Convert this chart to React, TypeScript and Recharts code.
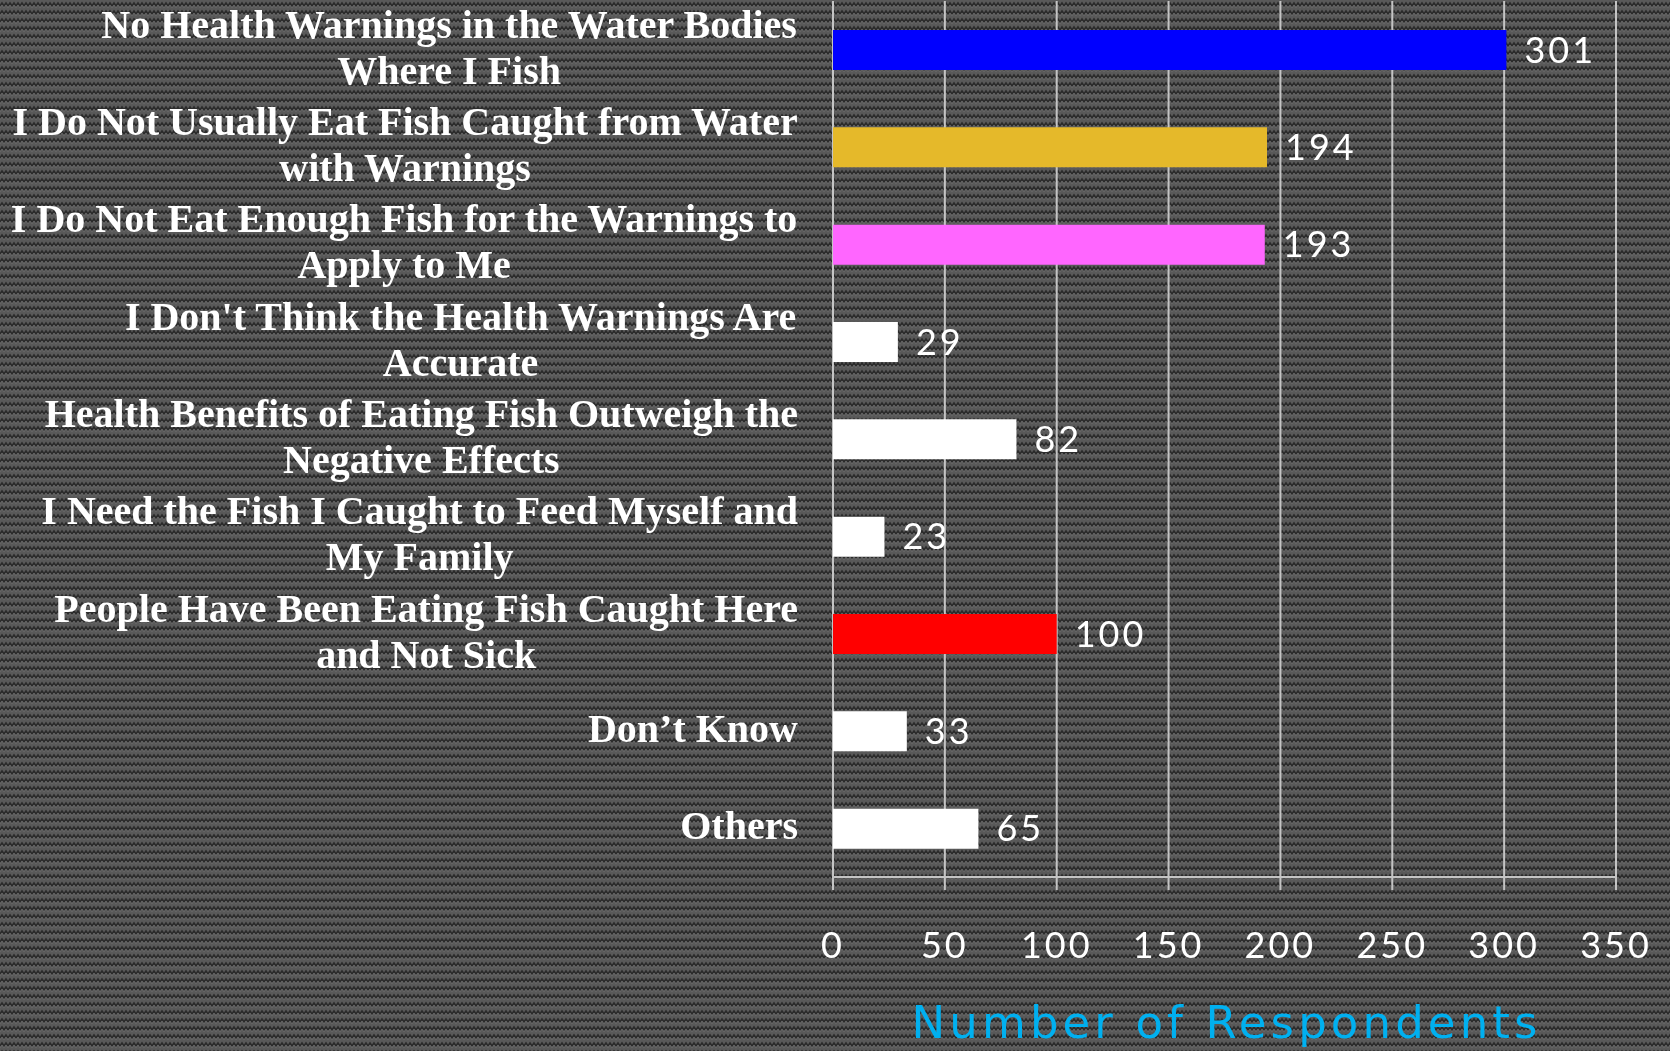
import React from 'react';
import { BarChart, Bar, XAxis, YAxis, CartesianGrid, Cell, LabelList } from 'recharts';

const categories = [
  'No Health Warnings in the Water Bodies\nWhere I Fish',
  'I Do Not Usually Eat Fish Caught from Water\nwith Warnings',
  'I Do Not Eat Enough Fish for the Warnings to\nApply to Me',
  "I Don't Think the Health Warnings Are\nAccurate",
  'Health Benefits of Eating Fish Outweigh the\nNegative Effects',
  'I Need the Fish I Caught to Feed Myself and\nMy Family',
  'People Have Been Eating Fish Caught Here\nand Not Sick',
  'Don’t Know',
  'Others',
];
const respondents = [301, 194, 193, 29, 82, 23, 100, 33, 65];
const barColors = ['#0000ff', '#e5b92a', '#ff66ff', '#ffffff', '#ffffff', '#ffffff', '#ff0000', '#ffffff', '#ffffff'];
const xTicks = [0, 50, 100, 150, 200, 250, 300, 350];

const data = categories.map((name, i) => ({ name, value: respondents[i] }));

const GRID = '#c4c4c4';
const LABEL_FONT = 'bold 40px "Liberation Serif"';
const NUM_FONT = 'Lato, "Open Sans", sans-serif';

const pattern =
  "<svg xmlns='http://www.w3.org/2000/svg' width='8' height='8'>" +
  "<rect width='8' height='8' fill='#595959'/>" +
  "<path d='M0 6 L2 3 L4 6 L6 3 L8 6' fill='none' stroke='#2a2a2a' stroke-width='1.6'/>" +
  "<path d='M0 8 L2 5 L4 8 L6 5 L8 8' fill='none' stroke='#6a6a6a' stroke-width='0.8'/>" +
  '</svg>';
const bg = `url("data:image/svg+xml,${encodeURIComponent(pattern)}")`;

let ctx: CanvasRenderingContext2D | null = null;
const measure = (s: string) => {
  if (!ctx) ctx = document.createElement('canvas').getContext('2d');
  if (!ctx) return s.length * 18;
  ctx.font = LABEL_FONT;
  return ctx.measureText(s).width;
};

const CategoryTick = ({ x, y, payload }: any) => {
  const lines: string[] = String(payload.value).split('\n');
  const right = x - 27;
  const blockW = Math.max(...lines.map(measure));
  const cx = right - blockW / 2;
  return (
    <g>
      {lines.map((line, i) => (
        <text
          key={i}
          x={cx}
          y={y + 11 + (i - (lines.length - 1) / 2) * 46}
          textAnchor="middle"
          fill="#ffffff"
          style={{ font: LABEL_FONT }}
        >
          {line}
        </text>
      ))}
    </g>
  );
};

const ValueTick = ({ x, y, payload }: any) => (
  <text x={x} y={y + 66} textAnchor="middle" fill="#ffffff" fontSize={36} fontFamily={NUM_FONT} letterSpacing={3}>
    {payload.value}
  </text>
);

const AxisTitle = ({ viewBox }: any) => (
  <text
    x={viewBox.x + viewBox.width / 2}
    y={1038}
    textAnchor="middle"
    fill="#00b0f0"
    fontSize={45}
    fontFamily='"DejaVu Sans", sans-serif'
    textLength={626}
    lengthAdjust="spacing"
  >
    Number of Respondents
  </text>
);

export default function App() {
  return (
    <div style={{ position: 'fixed', left: 0, top: 0, width: 1670, height: 1051, backgroundImage: bg, overflow: 'hidden' }}>
      <BarChart
        layout="vertical"
        width={1670}
        height={1051}
        data={data}
        margin={{ top: 1, right: 54, bottom: 0, left: 0 }}
        barSize={40}
      >
        <CartesianGrid horizontal={false} stroke={GRID} strokeWidth={2} />
        <XAxis
          type="number"
          domain={[0, 350]}
          ticks={xTicks}
          height={174}
          tickSize={13}
          axisLine={{ stroke: GRID, strokeWidth: 2 }}
          tickLine={{ stroke: GRID, strokeWidth: 2 }}
          tick={<ValueTick />}
          label={<AxisTitle />}
        />
        <YAxis
          type="category"
          dataKey="name"
          width={833}
          axisLine={false}
          tickLine={false}
          tick={<CategoryTick />}
          interval={0}
        />
        <Bar dataKey="value" isAnimationActive={false}>
          {data.map((d, i) => (
            <Cell key={d.name} fill={barColors[i]} />
          ))}
          <LabelList
            dataKey="value"
            position="right"
            offset={18}
            fill="#ffffff"
            fontSize={36}
            fontFamily={NUM_FONT}
            letterSpacing={3}
          />
        </Bar>
      </BarChart>
    </div>
  );
}
